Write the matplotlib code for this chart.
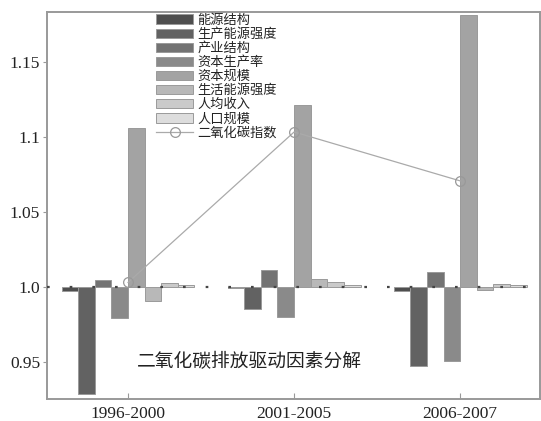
import matplotlib
matplotlib.use("Agg")
import matplotlib.pyplot as plt
import numpy as np

plt.rcParams['font.family'] = ['Noto Sans CJK SC', 'DejaVu Sans']

periods = ["1996-2000", "2001-2005", "2006-2007"]
factors = ["能源结构", "生产能源强度", "产业结构", "资本生产率",
           "资本规模", "生活能源强度", "人均收入", "人口规模"]

energy_structure = [0.997, 0.999, 0.997]
prod_energy_intensity = [0.9287, 0.985, 0.947]
industry_structure = [1.0047, 1.011, 1.010]
capital_productivity = [0.979, 0.980, 0.9507]
capital_scale = [1.106, 1.1215, 1.1815]
living_energy_intensity = [0.9907, 1.005, 0.998]
income_per_capita = [1.0027, 1.003, 1.002]
population = [1.001, 1.001, 1.001]

co2_index = [1.003, 1.1033, 1.0707]

ytick_vals = [0.95, 1.0, 1.05, 1.1, 1.15]
ytick_labels = ["0.95", "1.0", "1.05", "1.1", "1.15"]

series = [energy_structure, prod_energy_intensity, industry_structure,
          capital_productivity, capital_scale, living_energy_intensity,
          income_per_capita, population]
colors = ["#4f4f4f", "#626262", "#737373", "#8a8a8a",
          "#a3a3a3", "#b8b8b8", "#cacaca", "#dddddd"]

fig = plt.figure(figsize=(5.41, 4.21), dpi=100)
ax = fig.add_axes([0.0869, 0.0523, 0.911, 0.9192])

x = np.arange(len(periods))
w = 0.1
handles = []
for i, (vals, c) in enumerate(zip(series, colors)):
    vals = np.array(vals)
    b = ax.bar(x + (i - 3.5) * w, vals - 1.0, bottom=1.0, width=w,
               color=c, edgecolor="#9a9a9a", linewidth=0.7,
               label=factors[i], zorder=2)
    handles.append(b)

ax.axhline(1.0, color="#444444", linewidth=1.6,
           linestyle=(0, (1.2, 9)), zorder=3)

ln, = ax.plot(x, co2_index, color="#aaaaaa", linewidth=0.9,
              marker="o", markersize=7, markerfacecolor="none",
              markeredgecolor="#999999", markeredgewidth=0.9,
              label="二氧化碳指数", zorder=4)
handles.append(ln)

ax.set_xlim(-0.488, 2.48)
ax.set_ylim(0.9253, 1.1833)

ax.set_xticks(x)
ax.set_xticklabels(periods, family="Liberation Serif", fontsize=12.5,
                   color="#222222")
ax.set_yticks(ytick_vals)
ax.set_yticklabels(ytick_labels, family="Liberation Serif", fontsize=12.5,
                   color="#222222")
ax.tick_params(axis="y", direction="out", length=3, color="#999999",
               width=0.8, pad=2)
ax.tick_params(axis="x", direction="in", length=4, color="#999999",
               width=0.8, pad=5)

for s in ax.spines.values():
    s.set_color("#999999")
    s.set_linewidth(1.4)

ax.text(0.729, 0.95, "二氧化碳排放驱动因素分解", fontsize=13.5,
        ha="center", va="center", color="#222222", zorder=5)

leg = ax.legend(handles=handles, loc="upper left",
                bbox_to_anchor=(0.222, 0.995), frameon=False,
                fontsize=9.5, handlelength=2.8, handleheight=0.75,
                handletextpad=0.3, labelspacing=0.08, borderpad=0,
                borderaxespad=0)
for t in leg.get_texts():
    t.set_color("#222222")

fig.savefig("out.png", dpi=100)
